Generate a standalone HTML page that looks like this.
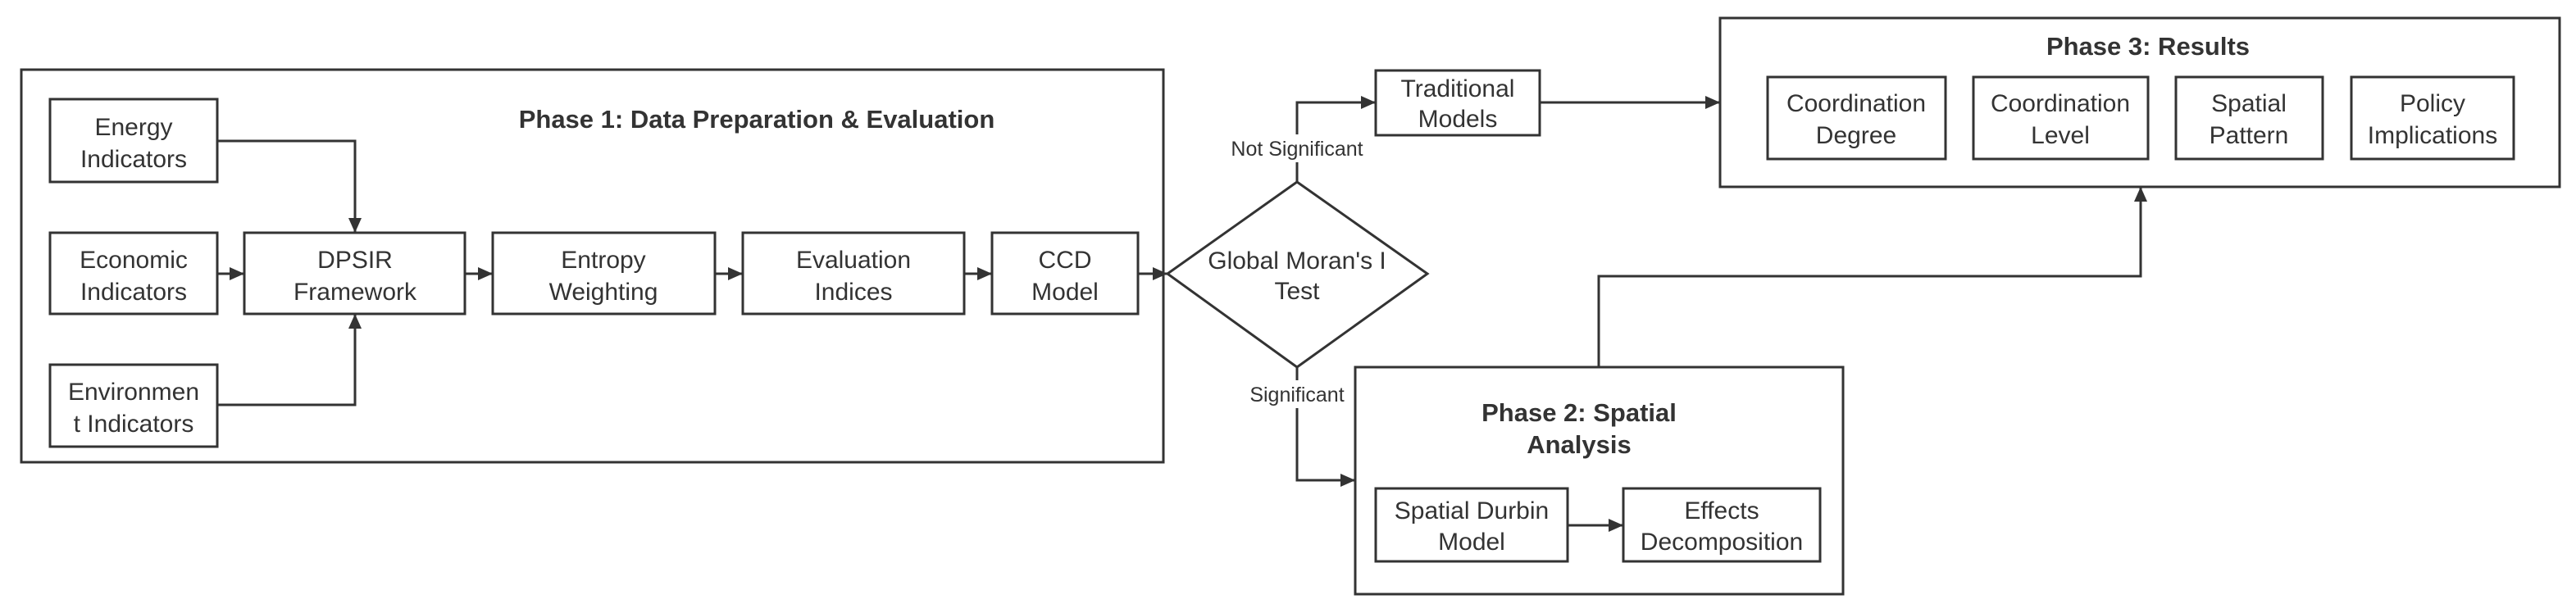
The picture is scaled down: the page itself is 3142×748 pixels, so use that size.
<!DOCTYPE html>
<html><head><meta charset="utf-8"><style>
html,body{margin:0;padding:0;background:#fff;}
svg{display:block;}
text{font-family:"Liberation Sans",Arial,sans-serif;fill:#333;}
.t{font-size:30px;text-anchor:middle;}
.b{font-size:31px;font-weight:bold;text-anchor:middle;}
.l{font-size:25px;text-anchor:middle;}
rect,polygon{fill:none;stroke:#333;stroke-width:3;}
path{fill:none;stroke:#333;stroke-width:3;}
</style></head><body>
<svg width="3142" height="748" viewBox="0 0 3142 748" xmlns="http://www.w3.org/2000/svg">
<defs>
<marker id="A" markerWidth="20" markerHeight="20" refX="18" refY="8" orient="auto" markerUnits="userSpaceOnUse"><path d="M0,0 L18,8 L0,16 z" style="fill:#333;stroke:none"/></marker></defs>

<rect x="26" y="85" width="1393" height="479"/>
<text class="b" x="923" y="156">Phase 1: Data Preparation &amp; Evaluation</text>

<rect x="61" y="121" width="204" height="101"/>
<text class="t" x="163" y="165">Energy</text><text class="t" x="163" y="204">Indicators</text>
<rect x="61" y="284" width="204" height="99"/>
<text class="t" x="163" y="327">Economic</text><text class="t" x="163" y="366">Indicators</text>
<rect x="61" y="445" width="204" height="100"/>
<text class="t" x="163" y="488">Environmen</text><text class="t" x="163" y="527">t Indicators</text>

<rect x="298" y="284" width="269" height="99"/>
<text class="t" x="433" y="327">DPSIR</text><text class="t" x="433" y="366">Framework</text>
<rect x="601" y="284" width="271" height="99"/>
<text class="t" x="736" y="327">Entropy</text><text class="t" x="736" y="366">Weighting</text>
<rect x="906" y="284" width="270" height="99"/>
<text class="t" x="1041" y="327">Evaluation</text><text class="t" x="1041" y="366">Indices</text>
<rect x="1210" y="284" width="178" height="99"/>
<text class="t" x="1299" y="327">CCD</text><text class="t" x="1299" y="366">Model</text>

<path d="M265,172 H433 V284" marker-end="url(#A)"/>
<path d="M265,494 H433 V383" marker-end="url(#A)"/>
<path d="M265,334 H298" marker-end="url(#A)"/>
<path d="M567,334 H601" marker-end="url(#A)"/>
<path d="M872,334 H906" marker-end="url(#A)"/>
<path d="M1176,334 H1210" marker-end="url(#A)"/>
<path d="M1388,334 H1424" marker-end="url(#A)"/>

<polygon points="1582,222 1741,334 1582,448 1424,334"/>
<text class="t" x="1582" y="328">Global Moran's I</text><text class="t" x="1582" y="365">Test</text>

<path d="M1582,222 V125 H1678" marker-end="url(#A)"/>
<rect x="1500" y="164" width="164" height="34" style="fill:#fff;stroke:none"/>
<text class="l" x="1582" y="190">Not Significant</text>
<rect x="1678" y="86" width="200" height="79"/>
<text class="t" x="1778" y="118">Traditional</text><text class="t" x="1778" y="155">Models</text>
<path d="M1878,125 H2098" marker-end="url(#A)"/>

<rect x="2098" y="22" width="1024" height="206"/>
<text class="b" x="2620" y="67">Phase 3: Results</text>
<rect x="2156" y="94" width="217" height="100"/>
<text class="t" x="2264" y="136">Coordination</text><text class="t" x="2264" y="175">Degree</text>
<rect x="2407" y="94" width="213" height="100"/>
<text class="t" x="2513" y="136">Coordination</text><text class="t" x="2513" y="175">Level</text>
<rect x="2654" y="94" width="179" height="100"/>
<text class="t" x="2743" y="136">Spatial</text><text class="t" x="2743" y="175">Pattern</text>
<rect x="2868" y="94" width="198" height="100"/>
<text class="t" x="2967" y="136">Policy</text><text class="t" x="2967" y="175">Implications</text>

<path d="M1582,448 V586 H1653" marker-end="url(#A)"/>
<rect x="1530" y="464" width="104" height="34" style="fill:#fff;stroke:none"/>
<text class="l" x="1582" y="490">Significant</text>

<rect x="1653" y="448" width="595" height="277"/>
<text class="b" x="1926" y="514">Phase 2: Spatial</text><text class="b" x="1926" y="553">Analysis</text>
<rect x="1678" y="596" width="234" height="89"/>
<text class="t" x="1795" y="633">Spatial Durbin</text><text class="t" x="1795" y="671">Model</text>
<rect x="1980" y="596" width="240" height="89"/>
<text class="t" x="2100" y="633">Effects</text><text class="t" x="2100" y="671">Decomposition</text>
<path d="M1912,641 H1980" marker-end="url(#A)"/>

<path d="M1950,448 V337 H2611 V228" marker-end="url(#A)"/>
</svg>
</body></html>
